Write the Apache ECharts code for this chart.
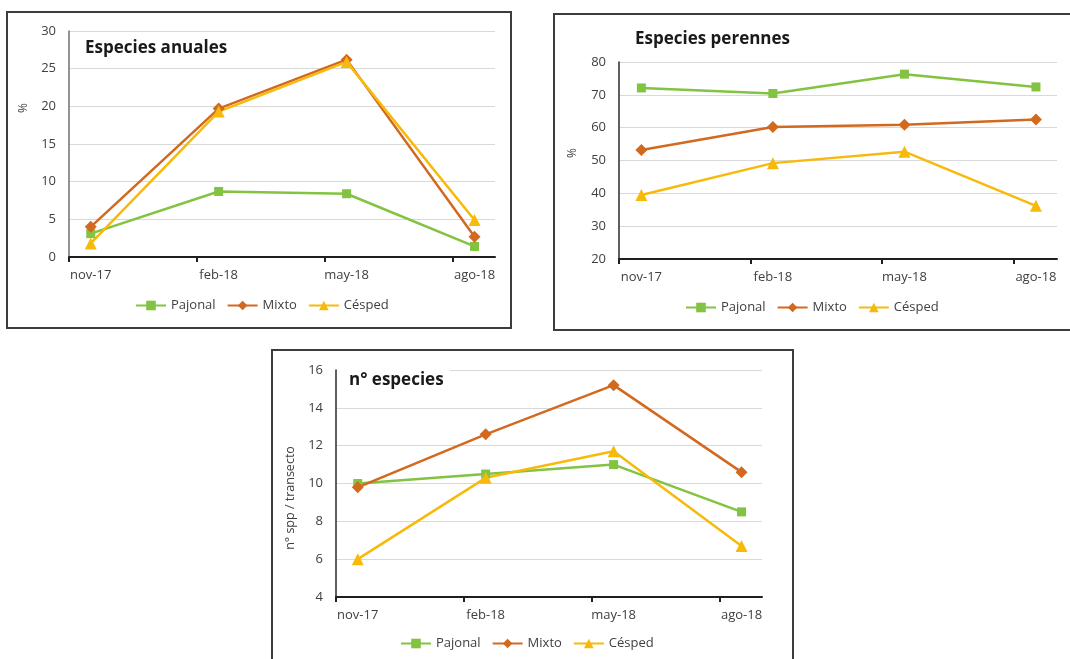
<!DOCTYPE html>
<html>
<head>
<meta charset="utf-8">
<script src="https://cdn.jsdelivr.net/npm/echarts@6/dist/echarts.min.js"></script>
<style>
  html, body { margin: 0; padding: 0; background: #ffffff; }
  #chart { width: 1070px; height: 659px; }
</style>
</head>
<body>
<div id="chart"></div>
<script>
// ---- data ----
const categories = ['nov-17', 'feb-18', 'may-18', 'ago-18'];
const seriesNames = ['Pajonal', 'Mixto', 'Césped'];

const anualesPajonal = [3.1, 8.7, 8.4, 1.4];
const anualesMixto   = [4.0, 19.7, 26.2, 2.7];
const anualesCesped  = [1.8, 19.3, 25.9, 4.9];

const perennesPajonal = [72.1, 70.4, 76.3, 72.4];
const perennesMixto   = [53.2, 60.2, 60.9, 62.5];
const perennesCesped  = [39.5, 49.2, 52.7, 36.2];

const nEspPajonal = [10.0, 10.5, 11.0, 8.5];
const nEspMixto   = [9.8, 12.6, 15.2, 10.6];
const nEspCesped  = [6.0, 10.3, 11.7, 6.7];

// ---- style ----
const FONT = 'Open Sans';
const COLORS = ['#82C341', '#D2691F', '#F7BA0B'];
const SYMBOLS = ['rect', 'diamond', 'triangle'];
const SYMSIZE = [9, 12, 12];
const OFFSET = 0.17;       // points sit inside each month band (Excel date axis)
const XMAX = 3.33;

const grids = [
  { left: 69,  top: 31,  width: 426, height: 226 },
  { left: 619, top: 62,  width: 438, height: 197 },
  { left: 336, top: 370, width: 426, height: 227 }
];
const yRanges = [
  { min: 0, max: 30, interval: 5 },
  { min: 20, max: 80, interval: 10 },
  { min: 4, max: 16, interval: 2 }
];
const datasets = [
  [anualesPajonal, anualesMixto, anualesCesped],
  [perennesPajonal, perennesMixto, perennesCesped],
  [nEspPajonal, nEspMixto, nEspCesped]
];

const xAxes = grids.map((g, i) => ({
  type: 'value', gridIndex: i, min: 0, max: XMAX,
  axisLine: { show: true, lineStyle: { color: '#1f1f1f', width: 2 } },
  axisTick: { show: true, length: 5, customValues: [0, 1, 2, 3], lineStyle: { color: '#1f1f1f', width: 2 } },
  axisLabel: {
    customValues: categories.map((c, k) => k + OFFSET),
    formatter: v => categories[Math.round(v - OFFSET)],
    color: '#404040', fontFamily: FONT, fontSize: 13, margin: 12
  },
  splitLine: { show: false }
}));

const yAxes = yRanges.map((r, i) => ({
  type: 'value', gridIndex: i, min: r.min, max: r.max, interval: r.interval,
  axisLine: { show: true, lineStyle: { color: i === 0 ? '#707070' : '#2a2a2a', width: 1.5 } },
  axisTick: { show: false },
  axisLabel: { color: '#404040', fontFamily: FONT, fontSize: 13, margin: 13 },
  splitLine: { show: true, lineStyle: { color: '#d9d9d9', width: 1 } }
}));

const series = [];
datasets.forEach((set, gi) => {
  set.forEach((vals, si) => {
    series.push({
      name: seriesNames[si], type: 'line',
      xAxisIndex: gi, yAxisIndex: gi,
      data: vals.map((v, k) => [k + OFFSET, v]),
      symbol: SYMBOLS[si], symbolSize: SYMSIZE[si], showSymbol: true,
      itemStyle: { color: COLORS[si] },
      lineStyle: { color: COLORS[si], width: 2.5, join: 'round' },
      emphasis: { disabled: true },
      animation: false
    });
  });
});

const legendBase = {
  data: seriesNames, itemWidth: 30, itemHeight: 12, itemGap: 11, padding: 0,
  textStyle: { color: '#404040', fontFamily: FONT, fontSize: 13 },
  selectedMode: false
};

const option = {
  animation: false,
  grid: grids,
  xAxis: xAxes,
  yAxis: yAxes,
  series: series,
  title: [
    { text: 'Especies anuales', left: 85, top: 40, padding: 0,
      textStyle: { fontFamily: FONT, fontWeight: 'bold', fontSize: 17, color: '#1a1a1a' } },
    { text: 'Especies perennes', left: 635, top: 31, padding: 0,
      textStyle: { fontFamily: FONT, fontWeight: 'bold', fontSize: 17, color: '#1a1a1a' } },
    { text: 'n° especies', left: 337, top: 366, padding: [6, 6, 4, 12], backgroundColor: '#ffffff',
      textStyle: { fontFamily: FONT, fontWeight: 'bold', fontSize: 17, color: '#1a1a1a' } }
  ],
  legend: [
    Object.assign({}, legendBase, { left: 135, top: 299 }),
    Object.assign({}, legendBase, { left: 685, top: 301 }),
    Object.assign({}, legendBase, { left: 400, top: 637 })
  ],
  graphic: [
    { type: 'rect', shape: { x: 7, y: 12, width: 504, height: 316 },
      style: { fill: 'none', stroke: '#3c3c3c', lineWidth: 2 }, z: 100 },
    { type: 'rect', shape: { x: 554, y: 14, width: 522, height: 316 },
      style: { fill: 'none', stroke: '#3c3c3c', lineWidth: 2 }, z: 100 },
    { type: 'rect', shape: { x: 272, y: 350, width: 521, height: 320 },
      style: { fill: 'none', stroke: '#3c3c3c', lineWidth: 2 }, z: 100 },
    { type: 'text', x: 24, y: 108, rotation: Math.PI / 2,
      style: { text: '%', fontFamily: FONT, fontSize: 12, fill: '#404040', align: 'center', verticalAlign: 'middle' } },
    { type: 'text', x: 573, y: 153, rotation: Math.PI / 2,
      style: { text: '%', fontFamily: FONT, fontSize: 12, fill: '#404040', align: 'center', verticalAlign: 'middle' } },
    { type: 'text', x: 290, y: 498, rotation: Math.PI / 2,
      style: { text: 'n° spp / transecto', fontFamily: FONT, fontSize: 12.5, fill: '#404040', align: 'center', verticalAlign: 'middle' } }
  ]
};

const chart = echarts.init(document.getElementById('chart'), null, { renderer: 'canvas' });
chart.setOption(option);
</script>
</body>
</html>
